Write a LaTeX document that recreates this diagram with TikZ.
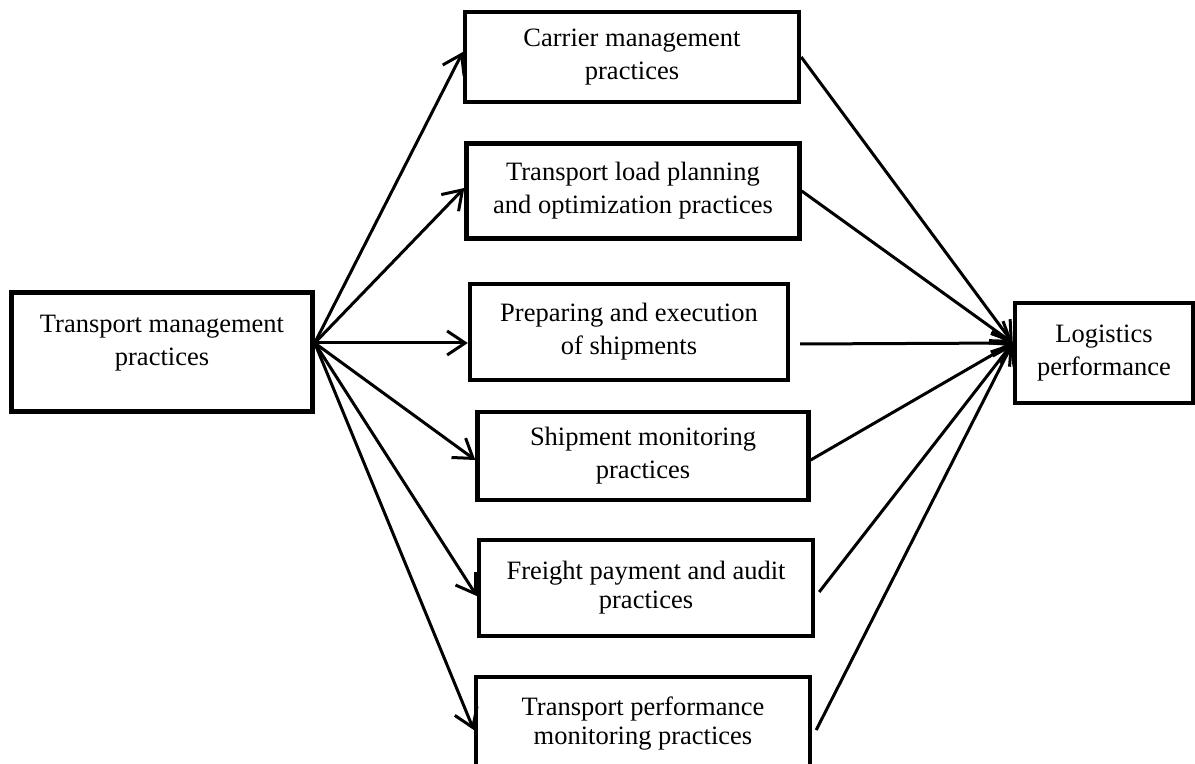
\documentclass[tikz,border=0pt]{standalone}
\usepackage{fontspec}
\setmainfont{Liberation Serif}
\usepackage{tikz}
\usetikzlibrary{arrows.meta}
\tikzset{
  box/.style={draw, line width=2.2pt, align=center, inner sep=0pt,
    font=\fontsize{13.25pt}{16.5pt}\selectfont},
  snug/.style={font=\fontsize{13.25pt}{14.5pt}\selectfont},
  link/.style={line width=1.5pt, -{Straight Barb[length=9pt,width=12pt]}}
}
\newcommand{\joinbox}[2]{\draw[link] (#1) -- (#2);}

\begin{document}
\begin{tikzpicture}[x=0.5pt, y=-0.5pt]
    \useasboundingbox (0,0) rectangle (1195,764);
    % source
    \node[box, text depth=12pt, minimum width=150.5pt, minimum height=59.5pt] (tmp) at (162,352) {Transport management\\practices};
    % practice areas
    \node[box, minimum width=167pt, minimum height=45pt] (carrier) at (632,57) {Carrier management\\practices};
    \node[box, minimum width=166.5pt, minimum height=47.5pt] (load) at (633,191) {Transport load planning\\and optimization practices};
    \node[box, minimum width=159pt, minimum height=48pt] (prep) at (629,332) {Preparing and execution\\of shipments};
    \node[box, minimum width=165.5pt, minimum height=44pt] (monit) at (643,456) {Shipment monitoring\\practices};
    \node[box, snug, minimum width=167pt, minimum height=48pt] (freight) at (646,588) {Freight payment and audit\\practices};
    \node[box, snug, minimum width=167pt, minimum height=47pt] (perfmon) at (643,724) {Transport performance\\monitoring practices};
    % outcome
    \node[box, minimum width=89pt, minimum height=50pt] (logperf) at (1104,353) {Logistics\\performance};
    % fan out
    \joinbox{[yshift=4.5pt]tmp.east}{[yshift=2.5pt]carrier.west}
    \joinbox{[yshift=4.5pt]tmp.east}{[yshift=1.5pt]load.west}
    \joinbox{[yshift=4.5pt]tmp.east}{[yshift=-5.5pt]prep.west}
    \joinbox{[yshift=4.5pt]tmp.east}{[yshift=-2pt]monit.west}
    \joinbox{[yshift=4.5pt]tmp.east}{[yshift=-4pt]freight.west}
    \joinbox{[yshift=4.5pt]tmp.east}{[yshift=-3pt]perfmon.west}
    % fan in
    \joinbox{carrier.east}{[yshift=5pt]logperf.west}
    \joinbox{load.east}{[yshift=5pt]logperf.west}
    \joinbox{[xshift=5pt,yshift=-6pt]prep.east}{[yshift=5pt]logperf.west}
    \joinbox{[yshift=-2pt]monit.east}{[yshift=5pt]logperf.west}
    \joinbox{[xshift=2pt,yshift=-2pt]freight.east}{[yshift=5pt]logperf.west}
    \joinbox{[xshift=2pt,yshift=-3pt]perfmon.east}{[yshift=5pt]logperf.west}
\end{tikzpicture}
\end{document}
